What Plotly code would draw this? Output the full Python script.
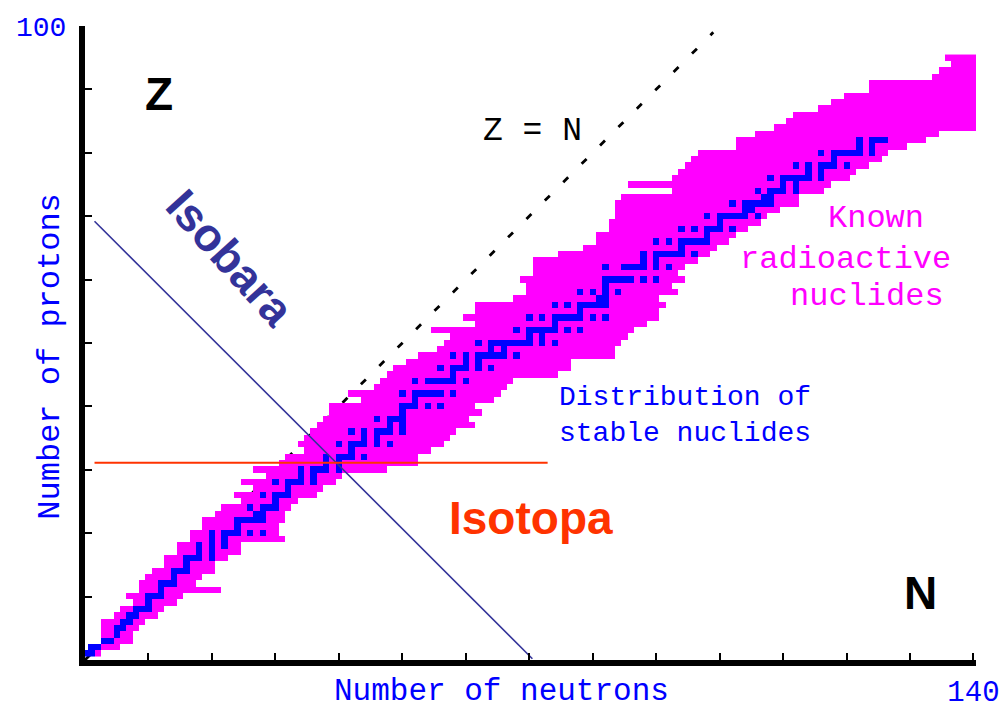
import plotly.graph_objects as go

# rows of the chart: proton number Z and the neutron range of known nuclides
proton_z = list(range(1, 96))
known_n_min = [0, 1, 3, 3, 3, 3, 5, 6, 8, 7,
               9, 9, 10, 11, 13, 13, 15, 15, 17, 17,
               19, 19, 21, 22, 25, 24, 27, 25, 29, 27,
               31, 32, 35, 34, 35, 36, 37, 38, 39, 39,
               44, 42, 46, 47, 48, 49, 51, 53, 56, 57,
               58, 55, 62, 60, 62, 62, 68, 70, 70, 69,
               71, 71, 71, 75, 79, 81, 81, 83, 83, 84,
               84, 84, 85, 93, 86, 93, 94, 95, 96, 97,
               103, 103, 106, 109, 111, 112, 116, 118, 120, 124,
               124, 134, 135, 137, 136]
known_n_max = [2, 5, 7, 7, 8, 9, 11, 12, 14, 15,
               21, 17, 18, 20, 20, 22, 24, 24, 31, 30,
               30, 31, 31, 32, 33, 36, 37, 39, 40, 47,
               52, 52, 54, 56, 57, 58, 61, 60, 62, 61,
               64, 65, 66, 67, 74, 76, 76, 83, 83, 84,
               85, 86, 88, 90, 90, 91, 90, 93, 92, 94,
               93, 94, 96, 98, 99, 101, 102, 104, 106, 107,
               109, 112, 112, 116, 117, 120, 121, 123, 125, 126,
               129, 132, 134, 140, 140, 140, 140, 140, 140, 140,
               140, 140, 140, 140, 140]

# stable nuclides: neutron numbers for Z = 1 .. 82
stable_z = list(range(1, 83))
stable_n = [
    [0, 1], [1, 2], [3, 4], [5], [5, 6], [6, 7], [7, 8], [8, 9, 10], [10], [10, 11, 12],
    [12], [12, 13, 14], [14], [14, 15, 16], [16], [16, 17, 18, 20], [18, 20], [18, 20, 22], [20, 22],
    [20, 22, 23, 24, 26, 28],
    [24], [24, 25, 26, 27, 28], [27, 28], [26, 28, 29, 30], [30], [28, 30, 31, 32], [32],
    [30, 32, 33, 34, 36], [34, 36], [34, 36, 37, 38, 40],
    [38, 40], [38, 40, 41, 42, 44], [42], [40, 42, 43, 44, 46, 48], [44, 46],
    [42, 44, 46, 47, 48, 50], [48, 50], [46, 48, 49, 50], [50], [50, 51, 52, 54, 56],
    [52], [50, 52, 53, 54, 55, 56, 58], [], [52, 54, 55, 56, 57, 58, 60], [58],
    [56, 58, 59, 60, 62, 64], [60, 62], [58, 60, 62, 63, 64, 65, 66, 68], [64, 66],
    [62, 64, 65, 66, 67, 68, 69, 70, 72, 74],
    [70, 72], [68, 70, 71, 72, 73, 74, 76, 78], [74], [70, 72, 74, 75, 76, 77, 78, 80, 82], [78],
    [74, 76, 78, 79, 80, 81, 82], [81, 82], [78, 80, 82, 84], [82], [82, 83, 84, 85, 86, 88, 90],
    [], [82, 85, 86, 87, 88, 90, 92], [88, 90], [88, 90, 91, 92, 93, 94, 96], [94],
    [90, 92, 94, 95, 96, 97, 98], [98], [94, 96, 98, 99, 100, 102], [100],
    [98, 100, 101, 102, 103, 104, 106],
    [104, 105], [102, 104, 105, 106, 107, 108], [107, 108], [106, 108, 109, 110, 112], [110, 112],
    [108, 110, 111, 112, 113, 114, 116], [114, 116], [112, 114, 116, 117, 118, 120], [118],
    [116, 118, 119, 120, 121, 122, 124],
    [122, 124], [122, 124, 125, 126],
]

neutron_n = list(range(0, 141))
x_ticks = list(range(0, 141, 10))
x_tick_text = [""] * 14 + ["140"]
y_ticks = list(range(0, 101, 10))
y_tick_text = [""] * 10 + ["100"]

# guide lines
zn_line = [0, 99]
isobar_n = [1.5, 70.5]
isobar_z = [69.2, 0.2]
isotope_n = [1.5, 72.9]
isotope_z = [31.1, 31.1]

# 1 = known radioactive, 2 = stable
grid = [[None] * len(neutron_n) for _ in proton_z]
for i, z in enumerate(proton_z):
    for n in range(known_n_min[i], known_n_max[i] + 1):
        grid[i][n] = 1
for z, ns in zip(stable_z, stable_n):
    for n in ns:
        grid[z - 1][n] = 2

fig = go.Figure()
fig.add_trace(go.Heatmap(
    x=neutron_n, y=proton_z, z=grid, zmin=1, zmax=2, showscale=False,
    colorscale=[[0, "#ff00ff"], [0.5, "#ff00ff"], [0.5, "#0000ff"], [1, "#0000ff"]],
    hoverinfo="skip"))
fig.add_trace(go.Scatter(x=isobar_n, y=isobar_z, mode="lines",
                         line=dict(color="#333399", width=1.6), hoverinfo="skip"))
fig.add_trace(go.Scatter(x=isotope_n, y=isotope_z, mode="lines",
                         line=dict(color="#ff3300", width=2), hoverinfo="skip"))

fig.add_shape(type="line", x0=zn_line[0], y0=zn_line[0], x1=zn_line[1], y1=zn_line[1],
              layer="below", line=dict(color="black", width=2.8, dash="7px,19px"))

mono = "Liberation Mono"
sans = "Liberation Sans"
notes = [
    dict(x=11.7, y=89.3, text="Z", font=dict(family=sans, size=46, color="black", weight="bold")),
    dict(x=131.7, y=10.6, text="N", font=dict(family=sans, size=46, color="black", weight="bold")),
    dict(x=70.5, y=83.3, text="Z = N", font=dict(family=mono, size=33, color="black")),
    dict(x=22.9, y=63.4, text="Isobara", textangle=48,
         font=dict(family=sans, size=46, color="#333399", weight="bold")),
    dict(x=70.3, y=22.4, text="Isotopa", font=dict(family=sans, size=46, color="#ff3300", weight="bold")),
    dict(x=74.4, y=38.6, text="Distribution of<br>stable nuclides", align="left", xanchor="left",
         font=dict(family=mono, size=28, color="#0000ff")),
    dict(x=124.6, y=69.6, text="Known", font=dict(family=mono, size=32, color="#ff00ff")),
    dict(x=119.9, y=63.2, text="radioactive", font=dict(family=mono, size=32, color="#ff00ff")),
    dict(x=123.3, y=57.3, text="nuclides", font=dict(family=mono, size=32, color="#ff00ff")),
]
for a in notes:
    a.setdefault("xanchor", "center")
    a.setdefault("yanchor", "middle")
    fig.add_annotation(xref="x", yref="y", showarrow=False, **a)

# axis titles sit outside the plotting area, so they are placed on the paper
fig.add_annotation(xref="paper", yref="paper", x=0.467, y=-0.05, showarrow=False,
                   text="Number of neutrons", xanchor="center", yanchor="middle",
                   font=dict(family=mono, size=31, color="#0000ff"))
fig.add_annotation(xref="paper", yref="paper", x=-0.0385, y=0.478, showarrow=False,
                   text="Number of protons", textangle=-90, xanchor="center", yanchor="middle",
                   font=dict(family=mono, size=32, color="#0000ff"))

axis_style = dict(showline=True, linecolor="black", linewidth=6, ticks="inside", ticklen=7,
                  tickwidth=2, tickcolor="black", showgrid=False, zeroline=False,
                  automargin=False)
fig.update_xaxes(range=[0, 140.4], tickvals=x_ticks, ticktext=x_tick_text,
                 tickfont=dict(family=mono, size=29, color="#0000ff"), **axis_style)
fig.update_yaxes(range=[0, 100], tickvals=y_ticks, ticktext=y_tick_text, ticklabelstandoff=7,
                 tickfont=dict(family=mono, size=28, color="#0000ff"), **axis_style)
fig.update_layout(width=1004, height=711, margin=dict(l=85, r=28, t=26, b=51),
                  plot_bgcolor="white", paper_bgcolor="white", showlegend=False)

# drop the default page margin so the figure fills the window exactly
fig.write_html("out.html", config={"displayModeBar": False},
               post_script="document.body.style.margin = '0';")
